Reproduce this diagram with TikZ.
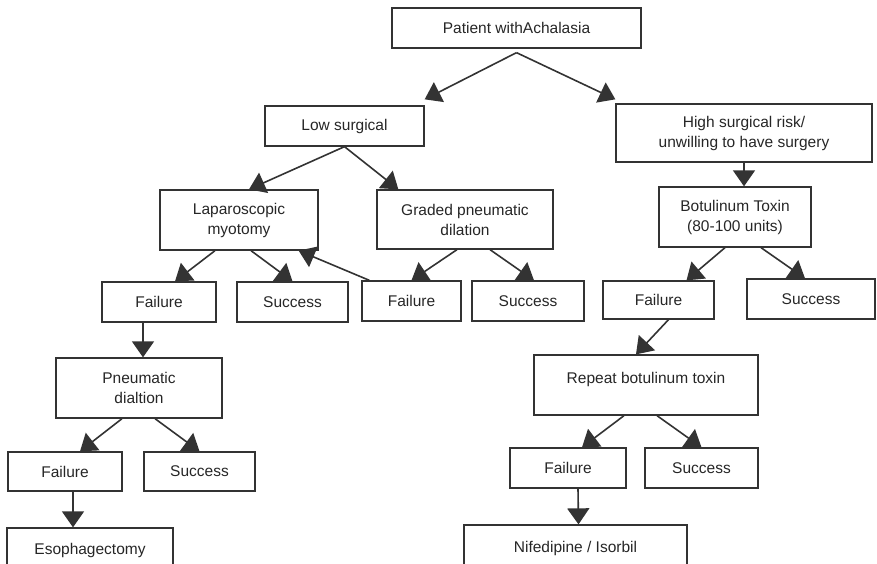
\documentclass[tikz,border=0pt]{standalone}
\usepackage{fontspec}
\setmainfont{Liberation Sans}
\usepackage{tikz}
\usetikzlibrary{arrows.meta}

\tikzset{
  box/.style={draw=black!80, line width=1.3pt, align=center, inner sep=2pt,
    font=\fontsize{15.5}{20}\selectfont, text=black!85},
  arr/.style={draw=black!80, line width=1.6pt, -{Triangle[length=16pt,width=22pt]}}
}

\begin{document}
\begin{tikzpicture}[x=1pt,y=-1pt]
\useasboundingbox (0,0) rectangle (877,564);

% top level
\node[box, minimum width=249pt, minimum height=40pt] (patient) at (516.5,28) {Patient withAchalasia};
\node[box, minimum width=159pt, minimum height=40pt] (low) at (344.5,126) {Low surgical};
\node[box, minimum width=256pt, minimum height=58pt] (high) at (744,133) {High surgical risk/\\ unwilling to have surgery};

% second level
\node[box, minimum width=158pt, minimum height=60pt] (lap) at (239,220) {Laparoscopic\\ myotomy};
\node[box, minimum width=176pt, minimum height=59pt] (graded) at (465,219.5) {Graded pneumatic\\ dilation};
\node[box, minimum width=152pt, minimum height=60pt] (bot) at (735,217) {Botulinum Toxin\\ (80-100 units)};

\node[box, minimum width=114pt, minimum height=40pt] (fail1) at (159,302) {Failure};
\node[box, minimum width=111pt, minimum height=40pt] (succ1) at (292.5,302) {Success};
\node[box, minimum width=99pt, minimum height=40pt] (fail2) at (411.5,301) {Failure};
\node[box, minimum width=112pt, minimum height=40pt] (succ2) at (528,301) {Success};
\node[box, minimum width=111pt, minimum height=38pt] (fail3) at (658.5,300) {Failure};
\node[box, minimum width=128pt, minimum height=40pt] (succ3) at (811,299) {Success};

% lower levels
\node[box, minimum width=166pt, minimum height=60pt] (pneum) at (139,388) {Pneumatic\\ dialtion};
\node[box, minimum width=224pt, minimum height=60pt, text depth=14pt] (repeat) at (646,385) {Repeat botulinum toxin};

\node[box, minimum width=114pt, minimum height=39pt] (fail4) at (65,471.5) {Failure};
\node[box, minimum width=111pt, minimum height=39pt] (succ4) at (199.5,471.5) {Success};
\node[box, minimum width=116pt, minimum height=40pt] (fail5) at (568,468) {Failure};
\node[box, minimum width=113pt, minimum height=40pt] (succ5) at (701.5,468) {Success};

% bottom boxes run off the page edge
\node[box, minimum width=166pt, minimum height=44pt] (eso) at (90,550) {Esophagectomy};
\node[box, minimum width=223pt, minimum height=47pt] (nif) at (575.5,548.5) {Nifedipine / Isorbil};

% connectors
\draw[arr] ([yshift=-4pt]patient.south) -- ([yshift=6pt]low.north east);
\draw[arr] ([yshift=-4pt]patient.south) -- ([yshift=4pt]high.north west);
\draw[arr] (low.south) -- ([xshift=10pt]lap.north);
\draw[arr] (low.south) -- ([xshift=22pt]graded.north west);
\draw[arr] (high.south) -- (high.south |- bot.north);

\draw[arr] ([xshift=-24pt]lap.south) -- ([xshift=16pt]fail1.north);
\draw[arr] ([xshift=12pt]lap.south) -- (succ1.north);
\draw[arr] ([xshift=8pt]fail2.north west) -- ([xshift=-20pt]lap.south east);
\draw[arr] ([xshift=-8pt]graded.south) -- (fail2.north);
\draw[arr] ([xshift=25pt]graded.south) -- ([xshift=6pt]succ2.north);
\draw[arr] ([xshift=-10pt]bot.south) -- ([xshift=28pt]fail3.north);
\draw[arr] ([xshift=26pt]bot.south) -- ([xshift=-6pt]succ3.north);

\draw[arr] ([xshift=-16pt]fail1.south) -- ([xshift=4pt]pneum.north);
\draw[arr] ([xshift=10pt]fail3.south) -- ([xshift=-10pt]repeat.north);

\draw[arr] ([xshift=-17pt]pneum.south) -- ([xshift=15pt]fail4.north);
\draw[arr] ([xshift=16pt]pneum.south) -- (succ4.north);
\draw[arr] ([xshift=-22pt]repeat.south) -- ([xshift=14pt]fail5.north);
\draw[arr] ([xshift=11pt]repeat.south) -- (succ5.north);

\draw[arr] ([xshift=8pt]fail4.south) -- ([xshift=-17pt]eso.north);
\draw[arr] ([xshift=10pt]fail5.south) -- ([xshift=3pt]nif.north);
\end{tikzpicture}
\end{document}
